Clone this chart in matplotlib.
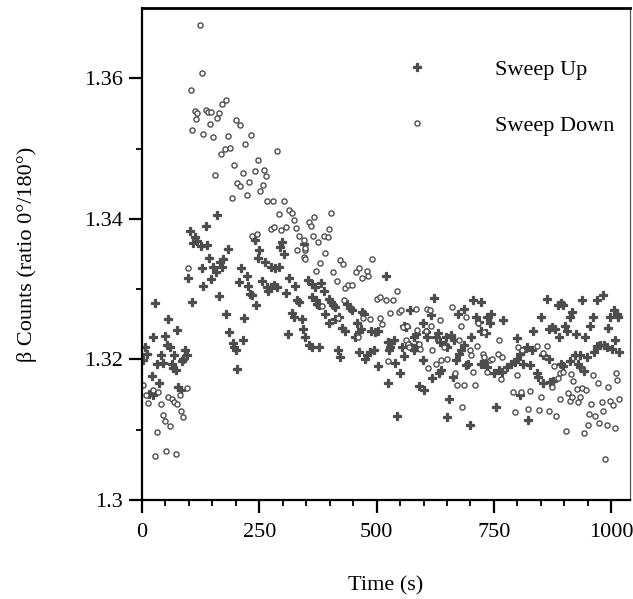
import matplotlib
matplotlib.use("Agg")
import matplotlib.pyplot as plt
from matplotlib.ticker import MultipleLocator, FixedLocator

# Sweep Up (+) : time (s), beta count ratio 0/180
up_time = [
	3, 6, 10, 16, 21, 21, 24, 24, 27, 31, 36, 40, 44, 48, 53, 55, 60, 63, 67, 68, 72, 75, 77, 84, 85, 88,
	92, 95, 99, 102, 107, 109, 113, 118, 125, 127, 131, 136, 139, 143, 147, 152, 157, 159, 164, 166, 170,
	173, 179, 184, 186, 193, 197, 200, 203, 207, 211, 215, 218, 223, 227, 231, 235, 241, 243, 247, 249,
	255, 262, 266, 269, 274, 274, 281, 284, 288, 291, 295, 298, 303, 306, 311, 313, 320, 323, 327, 330,
	335, 340, 343, 345, 348, 354, 355, 362, 362, 362, 369, 370, 373, 377, 378, 382, 387, 391, 398, 398,
	403, 407, 412, 412, 418, 419, 421, 426, 432, 436, 443, 448, 455, 458, 462, 462, 466, 469, 473, 476,
	480, 487, 489, 494, 497, 503, 503, 520, 524, 525, 527, 529, 530, 537, 539, 544, 550, 555, 559, 559,
	562, 569, 571, 574, 579, 580, 584, 587, 591, 598, 598, 600, 605, 608, 615, 619, 623, 626, 631, 633,
	635, 637, 645, 647, 650, 651, 655, 658, 662, 665, 669, 674, 676, 679, 687, 687, 690, 695, 699, 702,
	706, 711, 719, 722, 722, 722, 729, 733, 736, 736, 742, 743, 750, 754, 761, 768, 770, 779, 786, 795,
	799, 799, 806, 806, 811, 813, 820, 822, 827, 831, 834, 841, 845, 850, 855, 855, 863, 868, 868, 870,
	873, 875, 880, 887, 889, 894, 894, 898, 898, 902, 905, 912, 912, 916, 923, 926, 930, 934, 934, 937,
	941, 944, 949, 955, 962, 964, 969, 969, 976, 983, 985, 992, 994, 998, 1001, 1006, 1008, 1012, 1015,
	1017,
]
up_ratio = [
	1.3199, 1.3218, 1.3208, 1.3151, 1.3176, 1.3154, 1.3232, 1.3149, 1.3280, 1.3193, 1.3166, 1.3206, 1.3195,
	1.3233, 1.3221, 1.3258, 1.3218, 1.3194, 1.3188, 1.3206, 1.3185, 1.3242, 1.3161, 1.3157, 1.3198, 1.3201,
	1.3213, 1.3207, 1.3316, 1.3383, 1.3282, 1.3365, 1.3374, 1.3368, 1.3361, 1.3330, 1.3304, 1.3390, 1.3363,
	1.3344, 1.3315, 1.3332, 1.3324, 1.3406, 1.3290, 1.3338, 1.3331, 1.3343, 1.3265, 1.3357, 1.3239, 1.3223,
	1.3218, 1.3214, 1.3186, 1.3310, 1.3330, 1.3228, 1.3259, 1.3318, 1.3305, 1.3293, 1.3291, 1.3370, 1.3277,
	1.3344, 1.3355, 1.3312, 1.3338, 1.3303, 1.3297, 1.3332, 1.3303, 1.3306, 1.3330, 1.3303, 1.3331, 1.3360,
	1.3367, 1.3350, 1.3294, 1.3236, 1.3316, 1.3266, 1.3260, 1.3305, 1.3284, 1.3282, 1.3258, 1.3244, 1.3364,
	1.3232, 1.3313, 1.3220, 1.3308, 1.3289, 1.3218, 1.3303, 1.3284, 1.3279, 1.3277, 1.3218, 1.3309, 1.3298,
	1.3265, 1.3286, 1.3252, 1.3282, 1.3277, 1.3274, 1.3258, 1.3214, 1.3260, 1.3203, 1.3245, 1.3241, 1.3279,
	1.3273, 1.3270, 1.3232, 1.3252, 1.3239, 1.3211, 1.3244, 1.3268, 1.3264, 1.3201, 1.3206, 1.3211, 1.3241,
	1.3214, 1.3239, 1.3241, 1.3190, 1.3318, 1.3167, 1.3225, 1.3213, 1.3218, 1.3223, 1.3227, 1.3195, 1.3119,
	1.3180, 1.3218, 1.3248, 1.3205, 1.3246, 1.3221, 1.3271, 1.3218, 1.3232, 1.3214, 1.3236, 1.3220, 1.3162,
	1.3252, 1.3199, 1.3157, 1.3239, 1.3232, 1.3263, 1.3174, 1.3288, 1.3232, 1.3237, 1.3181, 1.3225, 1.3185,
	1.3220, 1.3232, 1.3118, 1.3218, 1.3143, 1.3235, 1.3175, 1.3227, 1.3199, 1.3264, 1.3208, 1.3213, 1.3272,
	1.3221, 1.3192, 1.3194, 1.3107, 1.3232, 1.3285, 1.3260, 1.3253, 1.3282, 1.3241, 1.3194, 1.3198, 1.3238,
	1.3261, 1.3189, 1.3252, 1.3265, 1.3181, 1.3133, 1.3185, 1.3182, 1.3256, 1.3189, 1.3194, 1.3196, 1.3231,
	1.3201, 1.3208, 1.3149, 1.3212, 1.3194, 1.3218, 1.3114, 1.3192, 1.3213, 1.3240, 1.3180, 1.3175, 1.3260,
	1.3206, 1.3166, 1.3286, 1.3244, 1.3201, 1.3168, 1.3246, 1.3170, 1.3244, 1.3277, 1.3232, 1.3280, 1.3194,
	1.3277, 1.3190, 1.3248, 1.3241, 1.3260, 1.3198, 1.3267, 1.3207, 1.3236, 1.3194, 1.3207, 1.3189, 1.3285,
	1.3183, 1.3232, 1.3203, 1.3247, 1.3261, 1.3211, 1.3284, 1.3219, 1.3221, 1.3292, 1.3220, 1.3218, 1.3245,
	1.3260, 1.3215, 1.3271, 1.3227, 1.3265, 1.3260, 1.3211,
]

# Sweep Down (o)
down_time = [
	3, 9, 13, 23, 28, 31, 35, 40, 44, 48, 51, 56, 60, 63, 69, 72, 75, 81, 83, 87, 95, 99, 104, 107, 112,
	116, 117, 123, 127, 131, 136, 141, 144, 147, 152, 156, 160, 164, 168, 171, 177, 180, 184, 188, 191,
	196, 200, 203, 208, 209, 216, 220, 223, 228, 232, 235, 240, 245, 248, 252, 257, 259, 264, 267, 274,
	279, 282, 287, 292, 296, 303, 306, 313, 319, 323, 328, 330, 335, 345, 345, 347, 348, 348, 356, 360,
	364, 367, 371, 376, 380, 384, 387, 391, 396, 399, 403, 407, 416, 418, 423, 428, 430, 432, 439, 448,
	456, 461, 462, 469, 471, 480, 482, 485, 490, 501, 508, 508, 512, 521, 524, 529, 534, 543, 548, 552,
	557, 562, 564, 566, 569, 583, 587, 591, 593, 605, 607, 610, 614, 615, 619, 626, 635, 638, 644, 651,
	660, 667, 671, 676, 679, 683, 687, 690, 699, 702, 706, 709, 715, 717, 726, 728, 729, 736, 742, 747,
	759, 761, 766, 768, 790, 795, 799, 802, 807, 809, 823, 827, 841, 847, 850, 854, 863, 868, 873, 878,
	882, 887, 890, 891, 897, 904, 909, 912, 914, 916, 919, 928, 930, 934, 937, 943, 946, 950, 953, 958,
	962, 966, 971, 975, 980, 983, 987, 992, 994, 998, 1003, 1008, 1010, 1013, 1017,
]
down_ratio = [
	1.3163, 1.3150, 1.3138, 1.3157, 1.3062, 1.3097, 1.3154, 1.3137, 1.3121, 1.3113, 1.3070, 1.3147, 1.3105,
	1.3143, 1.3140, 1.3065, 1.3137, 1.3149, 1.3126, 1.3118, 1.3159, 1.3330, 1.3584, 1.3526, 1.3554, 1.3542,
	1.3551, 1.3676, 1.3608, 1.3521, 1.3555, 1.3552, 1.3535, 1.3552, 1.3516, 1.3462, 1.3544, 1.3551, 1.3493,
	1.3564, 1.3499, 1.3569, 1.3518, 1.3501, 1.3429, 1.3477, 1.3540, 1.3451, 1.3534, 1.3447, 1.3465, 1.3507,
	1.3434, 1.3452, 1.3520, 1.3376, 1.3468, 1.3378, 1.3484, 1.3439, 1.3448, 1.3470, 1.3461, 1.3426, 1.3385,
	1.3426, 1.3389, 1.3497, 1.3407, 1.3384, 1.3425, 1.3389, 1.3412, 1.3409, 1.3398, 1.3387, 1.3356, 1.3376,
	1.3370, 1.3346, 1.3355, 1.3359, 1.3343, 1.3396, 1.3390, 1.3376, 1.3402, 1.3326, 1.3367, 1.3337, 1.3276,
	1.3375, 1.3352, 1.3374, 1.3385, 1.3408, 1.3325, 1.3311, 1.3259, 1.3342, 1.3336, 1.3284, 1.3301, 1.3306,
	1.3306, 1.3325, 1.3232, 1.3330, 1.3316, 1.3259, 1.3326, 1.3318, 1.3258, 1.3343, 1.3286, 1.3289, 1.3259,
	1.3250, 1.3284, 1.3198, 1.3266, 1.3285, 1.3298, 1.3267, 1.3270, 1.3246, 1.3227, 1.3248, 1.3222, 1.3218,
	1.3272, 1.3242, 1.3222, 1.3215, 1.3240, 1.3272, 1.3188, 1.3270, 1.3248, 1.3214, 1.3193, 1.3256, 1.3199,
	1.3218, 1.3201, 1.3274, 1.3181, 1.3163, 1.3228, 1.3247, 1.3133, 1.3163, 1.3260, 1.3213, 1.3206, 1.3182,
	1.3163, 1.3219, 1.3252, 1.3208, 1.3203, 1.3239, 1.3182, 1.3199, 1.3201, 1.3208, 1.3228, 1.3172, 1.3203,
	1.3154, 1.3125, 1.3178, 1.3218, 1.3154, 1.3213, 1.3130, 1.3155, 1.3219, 1.3128, 1.3146, 1.3209, 1.3219,
	1.3127, 1.3161, 1.3191, 1.3119, 1.3173, 1.3180, 1.3143, 1.3182, 1.3098, 1.3152, 1.3141, 1.3179, 1.3147,
	1.3170, 1.3158, 1.3139, 1.3147, 1.3159, 1.3095, 1.3156, 1.3107, 1.3123, 1.3137, 1.3178, 1.3119, 1.3166,
	1.3110, 1.3139, 1.3127, 1.3058, 1.3107, 1.3161, 1.3141, 1.3135, 1.3103, 1.3181, 1.3171, 1.3143,
]

x_ticks = [0, 250, 500, 750, 1000]
y_ticks = [1.30, 1.32, 1.34, 1.36]
y_tick_labels = ["1.3", "1.32", "1.34", "1.36"]


def main():

	plt.rcParams["font.family"] = ["Liberation Serif", "DejaVu Serif"]

	fig = plt.figure(figsize=(6.33, 5.99), dpi=100)
	ax = fig.add_axes([0.2243, 0.1653, 0.7709, 0.8213])

	gray = "#4d4d4d"
	# filled plus, edge in same colour so the arms look as bold as in the print
	ax.plot(up_time, up_ratio, linestyle="none", marker="P", markersize=5.6,
		color=gray, markeredgecolor=gray, markeredgewidth=0.9, label="Sweep Up")
	ax.plot(down_time, down_ratio, linestyle="none", marker="o", markersize=3.7,
		markerfacecolor="white", markeredgecolor=gray, markeredgewidth=1.0, label="Sweep Down")

	ax.set_xlim(0, 1040)
	ax.set_ylim(1.30, 1.37)

	ax.xaxis.set_major_locator(FixedLocator(x_ticks))
	ax.xaxis.set_minor_locator(MultipleLocator(50))
	ax.set_yticks(y_ticks)
	ax.set_yticklabels(y_tick_labels)
	ax.yaxis.set_minor_locator(FixedLocator([1.31, 1.33, 1.35]))

	ax.tick_params(which="major", direction="out", length=9.5, width=1.6, labelsize=16, pad=4)
	ax.tick_params(which="minor", direction="out", length=4.5, width=1.3)
	ax.tick_params(axis="x", which="major", pad=7)
	ax.tick_params(top=False, right=False, which="both")

	ax.spines["left"].set_linewidth(1.6)
	ax.spines["bottom"].set_linewidth(1.6)
	ax.spines["top"].set_linewidth(2.0)
	ax.spines["right"].set_linewidth(0.9)
	ax.spines["right"].set_color("#555555")

	ax.set_xlabel("Time (s)", fontsize=16, labelpad=25)
	ax.set_ylabel("\u03b2 Counts (ratio 0\u00b0/180\u00b0)", fontsize=16, labelpad=34)

	ax.legend(loc="upper left", bbox_to_anchor=(0.541, 0.895), frameon=False,
		fontsize=16, numpoints=1, handlelength=1.0, handletextpad=3.0,
		labelspacing=1.58, borderpad=0, borderaxespad=0)

	fig.savefig("out.png", dpi=100)

#end_def


main()
